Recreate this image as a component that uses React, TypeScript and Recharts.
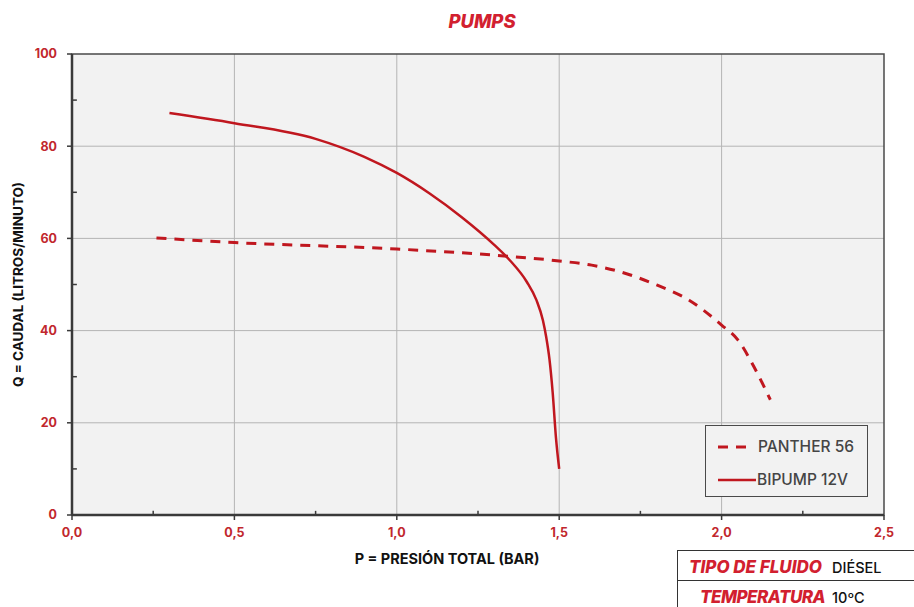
import { LineChart, Line, XAxis, YAxis, CartesianGrid, ReferenceArea, ReferenceLine } from 'recharts'

// presión total (bar) -> caudal (l/min)
const bipumpP = [0.3, 0.5, 0.75, 0.9, 1.0, 1.1, 1.2, 1.3, 1.35, 1.4, 1.43, 1.45, 1.46, 1.47, 1.48, 1.49, 1.5]
const bipumpQ = [87.2, 85.0, 81.6, 77.7, 74.2, 69.8, 64.6, 58.6, 55.1, 50.6, 46.6, 42.2, 38.6, 33.8, 26.5, 16.8, 10.0]

const pantherP = [0.26, 0.5, 1.0, 1.33, 1.5, 1.6, 1.7, 1.8, 1.9, 2.0, 2.05, 2.1, 2.15]
const pantherQ = [60.1, 59.1, 57.7, 56.2, 55.1, 54.2, 52.5, 49.9, 46.6, 41.2, 38.0, 32.1, 25.0]

const xTicks = [0, 0.5, 1.0, 1.5, 2.0, 2.5]
const yTicks = [0, 20, 40, 60, 80, 100]
const xMinor = [0.25, 0.75, 1.25, 1.75, 2.25]
const yMinor = [10, 30, 50, 70, 90]

const RED = '#c0171f'
const LABEL_RED = '#c1272d'
const FONT = 'Inter, "Noto Sans", sans-serif'

const bipump = bipumpP.map((p, i) => ({ p, q: bipumpQ[i] }))
const panther = pantherP.map((p, i) => ({ p, q: pantherQ[i] }))

const tickStyle = { fontSize: 12.5, fontWeight: 700, fill: LABEL_RED, fontFamily: FONT }

export default function App() {
  return (
    <div style={{ position: 'absolute', left: 0, top: 0, width: 914, height: 607, background: '#fff', fontFamily: FONT, overflow: 'hidden' }}>
      <div
        style={{
          position: 'absolute', left: 0, width: 964, top: 10, textAlign: 'center',
          color: '#d2202f', fontWeight: 800, fontStyle: 'italic', fontSize: 18.5,
        }}
      >
        PUMPS
      </div>

      <LineChart width={914} height={607} margin={{ top: 54, right: 30, bottom: 62, left: 0 }}>
        <CartesianGrid
          stroke="#b4b4b4"
          fill="#f2f2f2"
          horizontalValues={[20, 40, 60, 80]}
          verticalValues={[0.5, 1.0, 1.5, 2.0]}
        />
        <XAxis
          dataKey="p"
          type="number"
          domain={[0, 2.5]}
          ticks={xTicks}
          allowDataOverflow
          height={30}
          tick={tickStyle}
          tickFormatter={v => v.toFixed(1).replace('.', ',')}
          tickSize={5}
          tickMargin={8}
          axisLine={{ stroke: '#3a3a3a', strokeWidth: 2.5 }}
          tickLine={{ stroke: '#3a3a3a', strokeWidth: 1.5 }}
          label={{
            value: 'P = PRESIÓN TOTAL (BAR)', position: 'bottom', offset: 9, dx: -31,
            style: { fontSize: 14.5, fontWeight: 700, fill: '#111', fontFamily: FONT },
          }}
        />
        <YAxis
          dataKey="q"
          type="number"
          domain={[0, 100]}
          ticks={yTicks}
          width={72}
          tick={tickStyle}
          tickSize={5}
          tickMargin={10}
          axisLine={{ stroke: '#3a3a3a', strokeWidth: 2.5 }}
          tickLine={{ stroke: '#3a3a3a', strokeWidth: 1.5 }}
          label={{
            value: 'Q = CAUDAL (LITROS/MINUTO)', angle: -90, position: 'insideLeft', offset: 18,
            style: { textAnchor: 'middle', fontSize: 13.5, fontWeight: 700, fill: '#111', fontFamily: FONT },
          }}
        />
        <ReferenceArea x1={0} x2={2.5} y1={0} y2={100} fill="none" stroke="#4a4a4a" strokeWidth={1.5} />
        {xMinor.map(x => (
          <ReferenceLine key={`xm${x}`} segment={[{ x, y: 0 }, { x, y: 0.9 }]} stroke="#3a3a3a" strokeWidth={1.5} />
        ))}
        {yMinor.map(y => (
          <ReferenceLine key={`ym${y}`} segment={[{ x: 0, y }, { x: 0.015, y }]} stroke="#3a3a3a" strokeWidth={1.5} />
        ))}
        <Line
          data={panther}
          dataKey="q"
          type="monotone"
          stroke={RED}
          strokeWidth={3}
          strokeDasharray="10 8"
          dot={false}
          isAnimationActive={false}
        />
        <Line
          data={bipump}
          dataKey="q"
          type="monotone"
          stroke={RED}
          strokeWidth={2.5}
          dot={false}
          isAnimationActive={false}
        />
      </LineChart>

      {/* leyenda */}
      <div
        style={{
          position: 'absolute', left: 705, top: 425, width: 161, height: 70,
          border: '1.5px solid #4a4a4a', background: '#f2f2f2',
        }}
      >
        <svg width={50} height={70} style={{ position: 'absolute', left: 0, top: 0 }}>
          <line x1={12} x2={44} y1={21} y2={21} stroke={RED} strokeWidth={3} strokeDasharray="10 8" />
          <line x1={12} x2={51} y1={54} y2={54} stroke={RED} strokeWidth={2.5} />
        </svg>
        <div style={{ position: 'absolute', left: 52, top: 11, fontSize: 15.5, fontWeight: 500, color: '#454545', lineHeight: '20px' }}>PANTHER 56</div>
        <div style={{ position: 'absolute', left: 51, top: 44, fontSize: 15.5, fontWeight: 500, color: '#454545', lineHeight: '20px' }}>BIPUMP 12V</div>
      </div>

      {/* tabla de condiciones */}
      <div
        style={{
          position: 'absolute', left: 677, top: 550, width: 250, height: 70,
          borderTop: '1.5px solid #333', borderLeft: '1.5px solid #333',
        }}
      >
        <div style={{ position: 'absolute', left: 0, top: 0, width: 250, height: 29, borderBottom: '1.5px solid #333' }} />
        <span style={{ position: 'absolute', left: 11, top: 5, lineHeight: '22px', color: '#d2202f', fontWeight: 800, fontStyle: 'italic', fontSize: 17 }}>TIPO DE FLUIDO</span>
        <span style={{ position: 'absolute', left: 154, top: 7, lineHeight: '20px', color: '#111', fontWeight: 500, fontSize: 14.5 }}>DIÉSEL</span>
        <span style={{ position: 'absolute', left: 22, top: 35, lineHeight: '22px', color: '#d2202f', fontWeight: 800, fontStyle: 'italic', fontSize: 17, letterSpacing: -0.5 }}>TEMPERATURA</span>
        <span style={{ position: 'absolute', left: 154, top: 37, lineHeight: '20px', color: '#111', fontWeight: 500, fontSize: 14.5 }}>10ºC</span>
      </div>
    </div>
  )
}
